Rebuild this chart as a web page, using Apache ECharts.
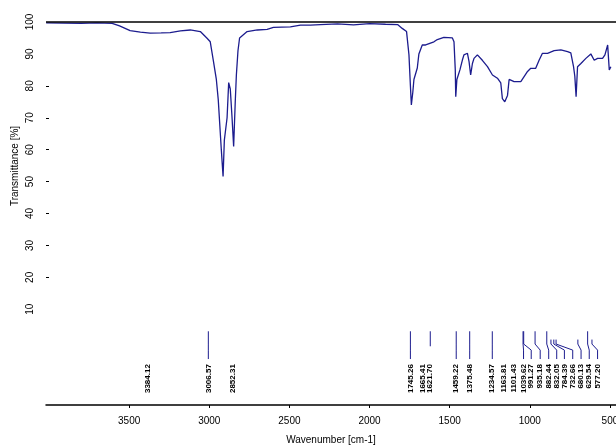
<!DOCTYPE html>
<html>
<head>
<meta charset="utf-8">
<script src="https://cdn.jsdelivr.net/npm/echarts@6/dist/echarts.min.js"></script>
<style>
  html, body { margin: 0; padding: 0; background: #fff; }
  #main { width: 616px; height: 446px; }
</style>
</head>
<body>
<div id="main"></div>
<script>
// spectrum: [wavenumber, transmittance %]
var spectrum = [
  [4018, 99.7], [3800, 99.6], [3700, 99.7], [3606, 99.6], [3560, 98.8], [3494, 97.3],
  [3430, 96.8], [3369, 96.5], [3300, 96.6], [3244, 96.7], [3180, 97.2], [3119, 97.5],
  [3056, 97.0], [3014, 94.9], [2994, 93.8], [2975, 88], [2956, 82], [2944, 75.6],
  [2925, 60], [2914, 51.6], [2906, 63], [2889, 70], [2879, 81], [2869, 79], [2858, 70],
  [2848, 61], [2838, 75], [2831, 83.4], [2821, 91], [2811, 95], [2764, 97], [2700, 97.5],
  [2639, 97.7], [2600, 98.3], [2494, 98.5], [2431, 99], [2369, 99], [2306, 99.2],
  [2200, 99.4], [2100, 99.1], [2000, 99.5], [1900, 99.3], [1825, 99.2], [1796, 98],
  [1769, 97], [1754, 89.7], [1745, 80], [1739, 74], [1730, 78], [1723, 82], [1702, 85.6],
  [1692, 90], [1671, 92.8], [1650, 92.8], [1598, 93.8], [1577, 94.5], [1536, 95.2],
  [1483, 95], [1473, 93.8], [1465, 85], [1462, 76.6], [1455, 82], [1436, 85], [1421, 88],
  [1411, 89.7], [1389, 90.2], [1379, 87.6], [1369, 83.4], [1358, 87], [1348, 88.6],
  [1327, 89.7], [1296, 88], [1264, 86], [1233, 83.4], [1202, 82.4], [1181, 80.9],
  [1171, 76], [1156, 75], [1139, 77], [1129, 82], [1119, 82.5], [1098, 81.3], [1056, 81.3],
  [1014, 84.5], [994, 85.5], [963, 85.5], [942, 88], [921, 90.2], [889, 90.2], [848, 91],
  [806, 91.25], [764, 90.7], [744, 90.3], [727, 86], [719, 83], [711, 76.6], [702, 86],
  [681, 87], [650, 88.6], [619, 90], [598, 88], [577, 88.6], [546, 88.6], [531, 89.7],
  [514, 92.8], [504, 85], [494, 86]
];

// peak picks: where the marker starts, where its label sits, label text
var peakWn   = [3384, 3006, 2852, 1745, 1665, 1621, 1459, 1375, 1234, 1163, 1101, 1042, 1038, 967, 894, 868, 850, 836, 700, 639, 612];
var labelWn  = [3384, 3006, 2852, 1745, 1665, 1621, 1459, 1375, 1234, 1163, 1101, 1039, 991, 935, 882, 832, 784, 732, 680, 629, 577];
var peakText = ["3384.12", "3006.57", "2852.31", "1745.26", "1665.41", "1621.70", "1459.22", "1375.48",
                "1234.57", "1163.81", "1101.43", "1039.62", "991.27", "935.18", "882.44", "832.05",
                "784.39", "732.66", "680.13", "629.54", "577.20"];
var lineTop    = [null, 3.1, null, 3.1, null, 3.1, 3.1, 3.1, 3.1, null, null, 3.1, 3.1, 3.1, 3.1, 0.5, 0.5, 0.5, 0.5, 3.1, 0.5];
var lineBottom = [null, -5.6, null, -5.6, null, -1.6, -5.6, -5.6, -5.6, null, null, -5.6, -5.6, -5.6, -5.6, -5.6, -5.6, -5.6, -5.6, -5.6, -5.6];

var xTicks = [500, 1000, 1500, 2000, 2500, 3000, 3500];
var yLabels = [10, 20, 30, 40, 50, 60, 70, 80, 90, 100];
var yTicks = [20, 30, 40, 50, 60, 70, 80];

var lineColor = "#1c1c8e";
var font = "Liberation Sans, Arial, sans-serif";

var chart = echarts.init(document.getElementById("main"));

function renderPeak(params, api) {
  var i = params.dataIndex;
  var children = [];
  if (lineTop[i] !== null) {
    var pts = [];
    pts.push(api.coord([peakWn[i], lineTop[i]]));
    if (lineBottom[i] < -2) {
      pts.push(api.coord([peakWn[i], -0.9]));
      pts.push(api.coord([labelWn[i], -2.8]));
      pts.push(api.coord([labelWn[i], lineBottom[i]]));
    } else {
      pts.push(api.coord([peakWn[i], lineBottom[i]]));
    }
    children.push({
      type: "polyline",
      shape: { points: pts },
      style: { stroke: lineColor, lineWidth: 1, fill: null }
    });
  }
  var p = api.coord([labelWn[i], -7.2]);
  children.push({
    type: "text",
    x: p[0],
    y: p[1],
    rotation: Math.PI / 2,
    style: {
      text: peakText[i],
      fill: "#000",
      font: "bold 8px " + font,
      align: "right",
      verticalAlign: "middle"
    }
  });
  return { type: "group", children: children };
}

chart.setOption({
  animation: false,
  grid: { left: 46, right: 0, top: 22, bottom: 41, containLabel: false, outerBoundsMode: "none" },
  xAxis: {
    type: "value",
    inverse: true,
    min: 462,
    max: 4019,
    name: "Wavenumber [cm-1]",
    nameLocation: "middle",
    nameGap: 30,
    nameTextStyle: { color: "#000", fontSize: 10, fontFamily: font },
    splitLine: { show: false },
    axisLine: { onZero: false, lineStyle: { color: "#000", width: 1.5 } },
    axisTick: { customValues: xTicks, length: 3, lineStyle: { color: "#000" } },
    axisLabel: {
      customValues: xTicks, color: "#000", fontSize: 10, fontFamily: font, margin: 11,
      formatter: function (v) { return String(v); }
    }
  },
  yAxis: {
    type: "value",
    min: -20,
    max: 100,
    splitLine: { show: false },
    axisLine: { show: false },
    axisTick: { show: true, customValues: yTicks, inside: true, length: 3, lineStyle: { color: "#000" } },
    axisLabel: {
      customValues: yLabels, rotate: 90, color: "#000", fontSize: 10, fontFamily: font, margin: 11,
      formatter: function (v) { return String(v); }
    }
  },
  graphic: [{
    type: "text",
    x: 15,
    y: 166,
    rotation: Math.PI / 2,
    style: {
      text: "Transmittance [%]",
      fill: "#000",
      font: "10px " + font,
      align: "center",
      verticalAlign: "middle"
    }
  }],
  series: [
    {
      type: "line",
      data: spectrum,
      showSymbol: false,
      lineStyle: { color: lineColor, width: 1.3 },
      markLine: {
        silent: true,
        symbol: "none",
        label: { show: false },
        lineStyle: { color: "#000", width: 1.5, type: "solid" },
        data: [{ yAxis: 100 }]
      }
    },
    {
      type: "custom",
      renderItem: renderPeak,
      data: peakWn.map(function (w, i) { return [w, labelWn[i]]; }),
      encode: { x: [0, 1] },
      silent: true
    }
  ]
});
</script>
</body>
</html>
